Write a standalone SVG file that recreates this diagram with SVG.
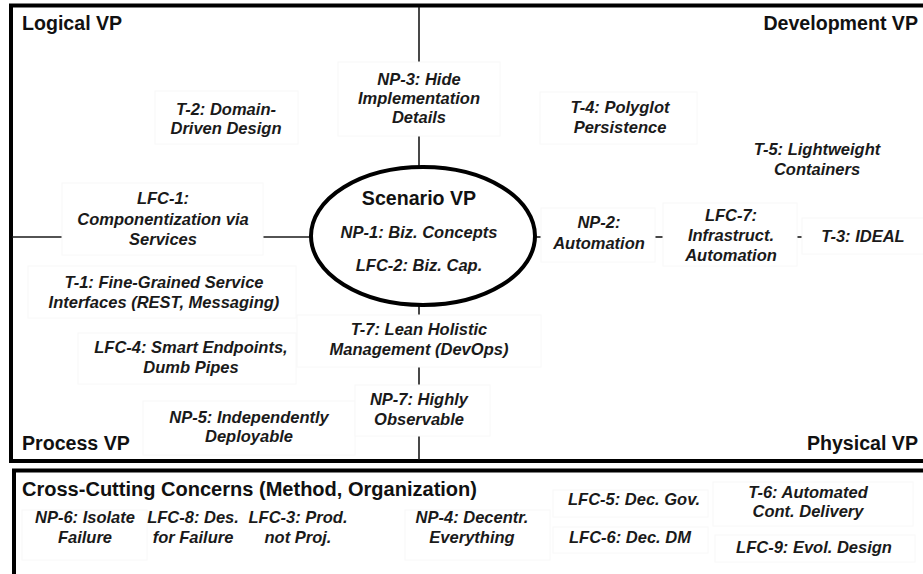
<svg xmlns="http://www.w3.org/2000/svg" width="923" height="574" viewBox="0 0 923 574">
<style>
.hd{font-family:"Liberation Sans",Arial,sans-serif;font-weight:bold;font-size:19.6px;fill:#111}
.lbl{font-family:"Liberation Sans",Arial,sans-serif;font-weight:bold;font-style:italic;font-size:16.5px;fill:#1a1a1a;text-anchor:middle}
.box{fill:#fff;stroke:#f8f8f8;stroke-width:1}
.conn{stroke:#1a1a1a;stroke-width:1.6;fill:none}
.frame{fill:none;stroke:#000;stroke-width:4}
</style>
<rect width="923" height="574" fill="#fff"/>
<rect class="frame" x="11" y="5.5" width="930" height="455.5"/>
<rect class="frame" x="14" y="470.5" width="930" height="105.5"/>

<g id="connectors">
<line class="conn" x1="419" y1="7" x2="419" y2="62"/>
<line class="conn" x1="419" y1="136" x2="419" y2="168"/>
<line class="conn" x1="419" y1="305" x2="419" y2="315"/>
<line class="conn" x1="419" y1="367" x2="419" y2="385"/>
<line class="conn" x1="419" y1="436" x2="419" y2="460"/>
<line class="conn" x1="12" y1="237" x2="62" y2="237"/>
<line class="conn" x1="263" y1="237" x2="311" y2="237"/>
<line class="conn" x1="535" y1="237" x2="541" y2="237"/>
<line class="conn" x1="655" y1="237" x2="663" y2="237"/>
<line class="conn" x1="797" y1="237" x2="802" y2="237"/>
</g>

<g id="logical-vp"><text class="hd" x="22" y="30">Logical VP</text></g>
<g id="development-vp"><text class="hd" x="918" y="30" text-anchor="end">Development VP</text></g>
<g id="process-vp"><text class="hd" x="22" y="450">Process VP</text></g>
<g id="physical-vp"><text class="hd" x="918" y="450" text-anchor="end">Physical VP</text></g>

<g id="scenario-vp">
<ellipse cx="423" cy="236" rx="112" ry="69" fill="#fff" stroke="#000" stroke-width="4"/>
<text class="hd" x="419" y="205" text-anchor="middle">Scenario VP</text>
<text class="lbl" x="419" y="238">NP-1: Biz. Concepts</text>
<text class="lbl" x="419" y="271">LFC-2: Biz. Cap.</text>
</g>

<g id="np3">
<rect class="box" x="338" y="62" width="162" height="74"/>
<text class="lbl" x="419" y="85">NP-3: Hide</text>
<text class="lbl" x="419" y="104">Implementation</text>
<text class="lbl" x="419" y="123">Details</text>
</g>

<g id="t2">
<rect class="box" x="155" y="91" width="143" height="53"/>
<text class="lbl" x="226" y="115">T-2: Domain-</text>
<text class="lbl" x="226" y="134">Driven Design</text>
</g>

<g id="lfc1">
<rect class="box" x="62" y="183" width="201" height="72"/>
<text class="lbl" x="163" y="204">LFC-1:</text>
<text class="lbl" x="163" y="225">Componentization  via</text>
<text class="lbl" x="163" y="245">Services</text>
</g>

<g id="t1">
<rect class="box" x="28" y="266" width="268" height="52"/>
<text class="lbl" x="164" y="288">T-1: Fine-Grained  Service</text>
<text class="lbl" x="164" y="308">Interfaces (REST, Messaging)</text>
</g>

<g id="lfc4">
<rect class="box" x="78" y="333" width="218" height="51"/>
<text class="lbl" x="191" y="353">LFC-4: Smart Endpoints,</text>
<text class="lbl" x="191" y="373">Dumb Pipes</text>
</g>

<g id="np5">
<rect class="box" x="143" y="401" width="212" height="54"/>
<text class="lbl" x="249" y="423">NP-5: Independently</text>
<text class="lbl" x="249" y="442">Deployable</text>
</g>

<g id="t7">
<rect class="box" x="297" y="315" width="244" height="52"/>
<text class="lbl" x="419" y="335">T-7: Lean  Holistic</text>
<text class="lbl" x="419" y="355">Management  (DevOps)</text>
</g>

<g id="np7">
<rect class="box" x="355" y="385" width="135" height="51"/>
<text class="lbl" x="419" y="405">NP-7: Highly</text>
<text class="lbl" x="419" y="425">Observable</text>
</g>

<g id="t4">
<rect class="box" x="540" y="92" width="157" height="52"/>
<text class="lbl" x="620" y="113">T-4: Polyglot</text>
<text class="lbl" x="620" y="133">Persistence</text>
</g>

<g id="t5">
<text class="lbl" x="817" y="155">T-5: Lightweight</text>
<text class="lbl" x="817" y="175">Containers</text>
</g>

<g id="np2">
<rect class="box" x="541" y="208" width="114" height="54"/>
<text class="lbl" x="599" y="228">NP-2:</text>
<text class="lbl" x="599" y="249">Automation</text>
</g>

<g id="lfc7">
<rect class="box" x="663" y="203" width="134" height="63"/>
<text class="lbl" x="731" y="221">LFC-7:</text>
<text class="lbl" x="731" y="241">Infrastruct.</text>
<text class="lbl" x="731" y="261">Automation</text>
</g>

<g id="t3">
<rect class="box" x="802" y="218" width="125" height="36"/>
<text class="lbl" x="863" y="242">T-3: IDEAL</text>
</g>

<g id="cross-cutting">
<text class="hd" x="22" y="496" textLength="455" lengthAdjust="spacingAndGlyphs">Cross-Cutting Concerns (Method, Organization)</text>
</g>

<g id="np6">
<rect class="box" x="22" y="510" width="125" height="50"/>
<text class="lbl" x="85" y="523">NP-6: Isolate</text>
<text class="lbl" x="85" y="543">Failure</text>
</g>
<g id="lfc8">
<text class="lbl" x="193" y="523">LFC-8: Des.</text>
<text class="lbl" x="193" y="543">for Failure</text>
</g>
<g id="lfc3">
<text class="lbl" x="298" y="523">LFC-3: Prod.</text>
<text class="lbl" x="298" y="543">not Proj.</text>
</g>
<g id="np4">
<rect class="box" x="405" y="510" width="145" height="50"/>
<text class="lbl" x="472" y="523">NP-4: Decentr.</text>
<text class="lbl" x="472" y="543">Everything</text>
</g>
<g id="lfc5">
<rect class="box" x="553" y="490" width="155" height="27"/>
<text class="lbl" x="634" y="505">LFC-5: Dec. Gov.</text>
</g>
<g id="lfc6">
<rect class="box" x="553" y="527" width="155" height="26"/>
<text class="lbl" x="630" y="543">LFC-6: Dec. DM</text>
</g>
<g id="t6">
<rect class="box" x="713" y="482" width="200" height="44"/>
<text class="lbl" x="808" y="498">T-6: Automated</text>
<text class="lbl" x="808" y="517">Cont. Delivery</text>
</g>
<g id="lfc9">
<rect class="box" x="715" y="535" width="200" height="27"/>
<text class="lbl" x="814" y="553">LFC-9: Evol. Design</text>
</g>
</svg>
